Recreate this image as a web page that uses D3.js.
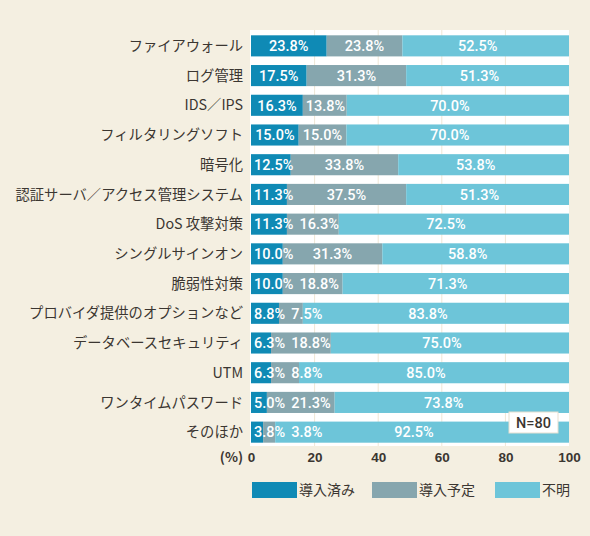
<!DOCTYPE html>
<html>
<head>
<meta charset="utf-8">
<script src="https://cdn.jsdelivr.net/npm/d3@7"></script>
<style>
  html, body { margin: 0; padding: 0; background: #f4efe1; }
  svg { display: block; }
  text { font-family: "Noto Sans CJK JP", "Noto Sans", sans-serif; }
  text.num { font-family: "Liberation Sans", Arial, sans-serif; }
  text.val { font-family: Roboto, "Liberation Sans", sans-serif; }
</style>
</head>
<body>
<div class="chart"></div>
<script>
// 項目
const categories = [
  "ファイアウォール",
  "ログ管理",
  "IDS／IPS",
  "フィルタリングソフト",
  "暗号化",
  "認証サーバ／アクセス管理システム",
  "DoS 攻撃対策",
  "シングルサインオン",
  "脆弱性対策",
  "プロバイダ提供のオプションなど",
  "データベースセキュリティ",
  "UTM",
  "ワンタイムパスワード",
  "そのほか"
];
const seriesNames = ["導入済み", "導入予定", "不明"];
const installed = [23.8, 17.5, 16.3, 15.0, 12.5, 11.3, 11.3, 10.0, 10.0, 8.8, 6.3, 6.3, 5.0, 3.8];
const planned   = [23.8, 31.3, 13.8, 15.0, 33.8, 37.5, 16.3, 31.3, 18.8, 7.5, 18.8, 8.8, 21.3, 3.8];
const unknown   = [52.5, 51.3, 70.0, 70.0, 53.8, 51.3, 72.5, 58.8, 71.3, 83.8, 75.0, 85.0, 73.8, 92.5];
const xTicks = [0, 20, 40, 60, 80, 100];
const sampleNote = "N=80";

const colors = ["#0f8ab5", "#86a6ae", "#6dc5d9"];

const w = 590, h = 536;
const plotLeft = 251, plotRight = 569, plotTop = 31, plotBottom = 447;

const rows = categories.map((c, i) => ({
  cat: c, 導入済み: installed[i], 導入予定: planned[i], 不明: unknown[i]
}));

const svg = d3.select(".chart").append("svg")
  .attr("width", w).attr("height", h);

const x = d3.scaleLinear().domain([0, 100]).range([plotLeft, plotRight]);
const y = d3.scaleBand().domain(categories).range([plotTop, plotBottom])
  .paddingInner(0.29).paddingOuter(0.145);

// plot area
svg.append("rect")
  .attr("x", plotLeft - 1).attr("y", 30)
  .attr("width", plotRight - plotLeft + 1).attr("height", 416)
  .attr("fill", "#ffffff");

svg.append("g").selectAll("line")
  .data(xTicks.slice(1, -1))
  .join("line")
  .attr("x1", d => x(d)).attr("x2", d => x(d))
  .attr("y1", 30).attr("y2", 446)
  .attr("stroke", "#efe7d6").attr("stroke-width", 1);

const stacked = d3.stack().keys(seriesNames)(rows);

const layers = svg.append("g").selectAll("g")
  .data(stacked)
  .join("g")
  .attr("fill", (d, i) => colors[i]);

layers.selectAll("rect")
  .data(d => d)
  .join("rect")
  .attr("x", d => x(d[0]))
  .attr("y", d => y(d.data.cat))
  .attr("width", d => x(Math.min(d[1], 100)) - x(d[0]))
  .attr("height", y.bandwidth());

// value labels
const labelG = svg.append("g");
rows.forEach((r, i) => {
  let prevRight = -Infinity;
  stacked.forEach((layer, k) => {
    const seg = layer[i];
    const v = seg[1] - seg[0];
    const x0 = x(seg[0]), x1 = x(Math.min(seg[1], 100));
    const t = labelG.append("text")
      .attr("class", "val")
      .attr("y", y(r.cat) + y.bandwidth() / 2)
      .attr("dy", "0.36em")
      .attr("fill", "#ffffff")
      .style("font-size", "14.5px")
      .style("font-weight", 500)
      .text(v.toFixed(1) + "%");
    const tw = t.node().getComputedTextLength();
    let lx = (x0 + x1) / 2 - tw / 2;
    if (k === 2) lx -= 8;
    lx = Math.max(lx, x0 + 3, prevRight + 6);
    t.attr("x", lx);
    prevRight = lx + tw;
  });
});

// category labels
svg.append("g").selectAll("text")
  .data(categories)
  .join("text")
  .attr("x", 243)
  .attr("y", d => y(d) + y.bandwidth() / 2)
  .attr("dy", "0.36em")
  .attr("text-anchor", "end")
  .style("font-size", "14.3px")
  .attr("fill", "#3b3631")
  .text(d => d);

// x axis
const xAxis = d3.axisBottom(x).tickValues(xTicks).tickSize(0).tickPadding(0);
const ax = svg.append("g")
  .attr("transform", "translate(0,452)")
  .call(xAxis);
ax.select(".domain").remove();
ax.selectAll("text")
  .attr("class", "num")
  .style("font-size", "13.5px")
  .style("font-weight", 700)
  .attr("fill", "#3b3631")
  .attr("dy", "0.72em");

svg.append("text")
  .attr("x", 243).attr("y", 457)
  .attr("dy", "0.36em")
  .attr("text-anchor", "end")
  .style("font-size", "13.5px")
  .style("font-weight", 700)
  .attr("fill", "#3b3631")
  .text("(%)");

// N box
svg.append("rect")
  .attr("x", 509).attr("y", 412)
  .attr("width", 49).attr("height", 21)
  .attr("fill", "#ffffff")
  .attr("stroke", "#e6dfd0");
svg.append("text")
  .attr("class", "val")
  .attr("x", 533.5).attr("y", 422.5)
  .attr("dy", "0.36em")
  .attr("text-anchor", "middle")
  .style("font-size", "14.5px")
  .style("font-weight", 500)
  .attr("fill", "#3b3631")
  .text(sampleNote);

// legend
const legendX = [252, 372, 495];
const legend = svg.append("g").selectAll("g")
  .data(seriesNames)
  .join("g")
  .attr("transform", (d, i) => `translate(${legendX[i]},482)`);
legend.append("rect")
  .attr("width", 45).attr("height", 16)
  .attr("fill", (d, i) => colors[i]);
legend.append("text")
  .attr("x", 47).attr("y", 8)
  .attr("dy", "0.36em")
  .style("font-size", "14px")
  .attr("fill", "#3b3631")
  .text(d => d);
</script>
</body>
</html>
